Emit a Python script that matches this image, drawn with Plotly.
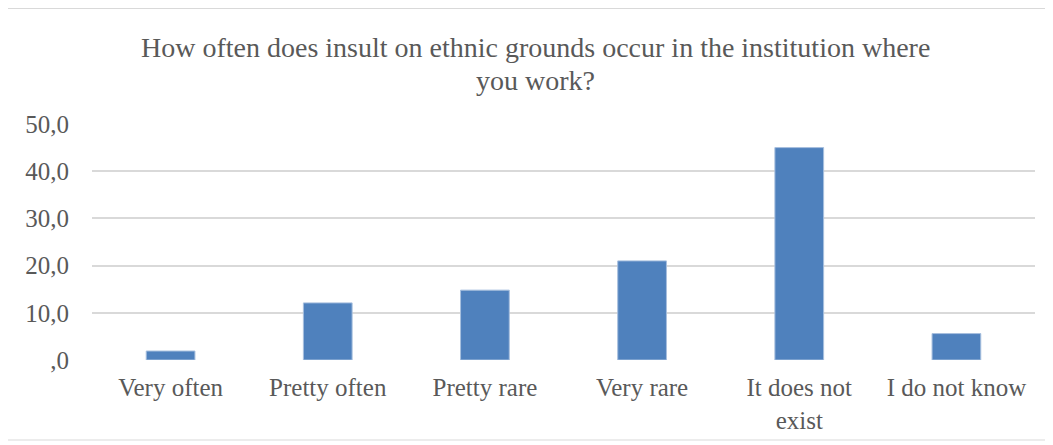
import plotly.graph_objects as go

categories = ["Very often", "Pretty often", "Pretty rare", "Very rare", "It does not<br>exist", "I do not know"]
values = [1.9, 12.1, 14.8, 21.0, 45.0, 5.6]
y_tick_vals = [0, 10, 20, 30, 40, 50]
y_tick_text = [",0", "10,0", "20,0", "30,0", "40,0", "50,0"]
title_lines = ["How often does insult on ethnic grounds occur in the institution where", "you work?"]

FONT = "Liberation Serif"
TXT = "#595959"

fig = go.Figure(go.Bar(
    x=categories, y=values,
    marker=dict(color="#4F81BD", line=dict(color="#A7BFDE", width=1)),
    width=0.31,
))

# page is rendered with an 8px body margin, so work in figure coords
W, H = 1045, 437
L, R, T, B = 84, 18, 116, 85
pw, ph = W - L - R, H - T - B

title_centers_px = [39, 72]
annotations = [
    dict(text=line, xref="paper", yref="paper",
         x=((535 - 8) - L) / pw, y=(H - B - cy) / ph,
         xanchor="center", yanchor="middle", showarrow=False,
         font=dict(family=FONT, size=28, color=TXT))
    for line, cy in zip(title_lines, title_centers_px)
]

fig.update_layout(
    width=W, height=H,
    margin=dict(l=L, r=R, t=T, b=B),
    paper_bgcolor="white", plot_bgcolor="white",
    showlegend=False,
    font=dict(family=FONT, color=TXT),
    annotations=annotations,
    xaxis=dict(tickfont=dict(size=25, color=TXT), showline=False, ticks="", showgrid=False,
               ticklabelstandoff=10),
    yaxis=dict(range=[0, 50], tickvals=y_tick_vals, ticktext=y_tick_text,
               tickfont=dict(size=25, color=TXT), showgrid=True, gridcolor="#D9D9D9",
               gridwidth=1.5, zeroline=False, ticks="", ticklabelstandoff=22),
    shapes=[dict(type="rect", xref="paper", yref="paper",
                 x0=(-4 - L) / pw, x1=(1041 - L) / pw,
                 y0=(H - B - 432) / ph, y1=(H - B - 0.5) / ph,
                 line=dict(color="#D9D9D9", width=1), layer="below")],
)

fig.write_html("out.html")
